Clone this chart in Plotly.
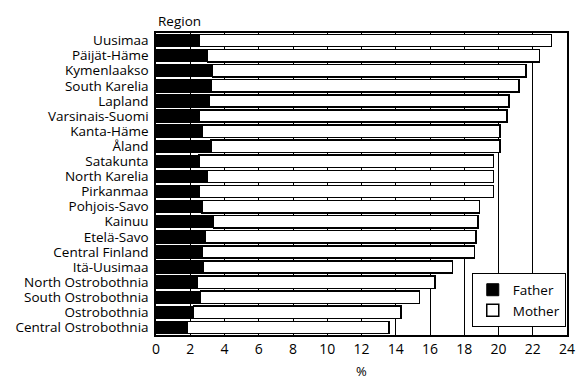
import plotly.graph_objects as go

regions = ["Uusimaa", "Päijät-Häme", "Kymenlaakso", "South Karelia", "Lapland",
           "Varsinais-Suomi", "Kanta-Häme", "Åland", "Satakunta", "North Karelia",
           "Pirkanmaa", "Pohjois-Savo", "Kainuu", "Etelä-Savo", "Central Finland",
           "Itä-Uusimaa", "North Ostrobothnia", "South Ostrobothnia", "Ostrobothnia",
           "Central Ostrobothnia"]
father = [2.5, 3.0, 3.3, 3.2, 3.1, 2.5, 2.7, 3.2, 2.5, 3.0,
          2.5, 2.7, 3.35, 2.9, 2.7, 2.75, 2.4, 2.6, 2.2, 1.85]
total = [23.1, 22.4, 21.6, 21.2, 20.6, 20.5, 20.1, 20.1, 19.7, 19.7,
         19.7, 18.9, 18.8, 18.7, 18.6, 17.3, 16.3, 15.4, 14.3, 13.6]
mother = [round(t - f, 2) for t, f in zip(total, father)]
ticks = list(range(0, 25, 2))

FONT = "Open Sans"

fig = go.Figure()
fig.add_trace(go.Bar(y=regions, x=father, orientation="h", name="Father",
                     marker=dict(color="black", line=dict(color="black", width=1))))
fig.add_trace(go.Bar(y=regions, x=mother, orientation="h", name="Mother",
                     marker=dict(color="white", line=dict(color="black", width=1.5))))

fig.update_layout(
    barmode="stack",
    bargap=0.18,
    width=576, height=379,
    margin=dict(l=156, r=9, t=33, b=44),
    paper_bgcolor="white", plot_bgcolor="white",
    font=dict(family=FONT, size=13, color="black"),
    xaxis=dict(range=[0, 24], tickvals=ticks, showgrid=True, gridcolor="black",
               gridwidth=1, zeroline=False, showline=True, linecolor="black",
               linewidth=1.5, mirror=True, ticks="", tickfont=dict(size=14),
               automargin=False),
    yaxis=dict(autorange="reversed", showline=True, linecolor="black", linewidth=1.5,
               mirror=True, ticks="", showgrid=False, tickfont=dict(size=13.5),
               tickmode="array", tickvals=regions, ticktext=regions,
               ticklabelstandoff=3, automargin=False),
    legend=dict(x=0.997, y=0.025, xanchor="right", yanchor="bottom",
                bordercolor="black", borderwidth=1, bgcolor="white",
                traceorder="normal", font=dict(size=13.5),
                itemwidth=30, tracegroupgap=0),
    showlegend=True,
)
fig.add_annotation(text="Region", x=0, y=1, xref="paper", yref="paper",
                   xanchor="left", yanchor="bottom", showarrow=False,
                   font=dict(size=13.5), yshift=1)
fig.add_annotation(text="%", x=0.5, y=0, xref="paper", yref="paper",
                   xanchor="center", yanchor="top", showarrow=False,
                   font=dict(size=13), yshift=-25)

fig.write_html("out.html", config={"displayModeBar": False},
               post_script="document.body.style.margin='0';document.body.style.overflow='hidden';")
